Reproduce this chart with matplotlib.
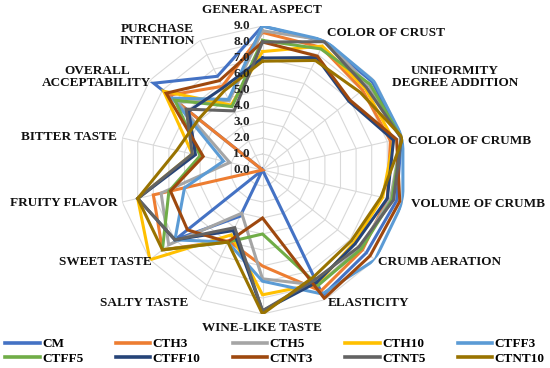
import numpy as np
import matplotlib
matplotlib.use("Agg")
import matplotlib.pyplot as plt
from matplotlib.lines import Line2D

categories = ["GENERAL ASPECT", "COLOR OF CRUST", "UNIFORMITY\nDEGREE ADDITION", "COLOR OF CRUMB",
              "VOLUME OF CRUMB", "CRUMB AERATION", "ELASTICITY", "WINE-LIKE TASTE", "SALTY TASTE",
              "SWEET TASTE", "FRUITY FLAVOR", "BITTER TASTE", "OVERALL\nACCEPTABILITY", "PURCHASE\nINTENTION"]

series_names = ["CM", "CTH3", "CTH5", "CTH10", "CTFF3", "CTFF5", "CTFF10", "CTNT3", "CTNT5", "CTNT10"]

CM     = [9.0, 8.9, 8.8, 8.9, 8.6, 8.3, 8.7, 0.0, 3.2, 7.0, 0.0, 0.0, 8.7, 6.5]
CTH3   = [8.6, 8.5, 8.0, 8.2, 8.0, 8.0, 8.4, 6.0, 4.9, 8.0, 7.0, 0.0, 7.5, 5.8]
CTH5   = [8.7, 9.0, 8.5, 8.9, 8.2, 7.8, 8.0, 6.8, 3.0, 7.5, 6.5, 2.1, 6.8, 4.8]
CTH10  = [7.4, 8.6, 8.2, 8.4, 7.7, 7.3, 7.9, 7.8, 4.5, 9.0, 8.0, 4.5, 7.9, 4.5]
CTFF3  = [9.0, 9.0, 8.9, 9.0, 9.0, 9.0, 8.6, 6.95, 5.0, 7.0, 5.0, 2.5, 7.2, 4.9]
CTFF5  = [8.1, 8.4, 8.6, 8.9, 8.3, 7.9, 8.0, 4.0, 5.0, 8.0, 6.0, 4.0, 7.0, 4.4]
CTFF10 = [7.0, 7.8, 6.9, 8.4, 8.0, 7.4, 7.8, 8.8, 4.2, 7.0, 8.0, 4.3, 5.9, 5.7]
CTNT3  = [8.0, 7.9, 7.0, 8.6, 8.8, 8.6, 8.9, 3.0, 5.0, 6.0, 5.9, 3.8, 7.7, 6.2]
CTNT5  = [8.0, 8.9, 8.3, 8.9, 8.4, 7.7, 7.6, 8.8, 4.0, 7.0, 8.0, 4.5, 6.1, 4.1]
CTNT10 = [6.8, 7.6, 7.8, 9.0, 7.6, 7.1, 7.4, 9.0, 5.0, 8.0, 8.0, 5.5, 5.1, 5.5]

radial_ticks = [0, 1, 2, 3, 4, 5, 6, 7, 8, 9]

series_values = [CM, CTH3, CTH5, CTH10, CTFF3, CTFF5, CTFF10, CTNT3, CTNT5, CTNT10]
colors = ["#4472C4", "#ED7D31", "#A5A5A5", "#FFC000", "#5B9BD5",
          "#70AD47", "#264478", "#9E480E", "#636363", "#997300"]

FONT = "Liberation Serif"

W, H = 550, 368
fig = plt.figure(figsize=(5.5, 3.68), dpi=100)

cx, cy, R = 262.5, 170.0, 144.0
ax = fig.add_axes([(cx - R) / W, (H - cy - R) / H, 2 * R / W, 2 * R / H], projection="polar")
ax.set_theta_zero_location("N")
ax.set_theta_direction(-1)
ax.set_ylim(0, 9)
ax.set_xticks([])
ax.set_yticks([])
ax.grid(False)
ax.spines["polar"].set_visible(False)
ax.patch.set_alpha(0)

n = len(categories)
theta = np.linspace(0, 2 * np.pi, n, endpoint=False)
theta_c = np.append(theta, theta[0])

grid_col = "#D9D9D9"
for lv in radial_ticks[1:]:
    ax.plot(theta_c, [lv] * (n + 1), color=grid_col, lw=0.8, zorder=0)
for t in theta:
    ax.plot([t, t], [0, radial_ticks[-1]], color=grid_col, lw=0.8, zorder=0)

for name, vals, col in zip(series_names, series_values, colors):
    v = np.append(vals, vals[0])
    ax.plot(theta_c, v, color=col, lw=2.2, zorder=3, label=name, solid_joinstyle="miter")

for v in radial_ticks:
    ax.annotate(f"{v:.1f}", xy=(0, v), xytext=(-9, 0), textcoords="offset points",
                ha="right", va="center", fontsize=9.5, fontweight="bold",
                family=FONT, color="#222222", zorder=5, annotation_clip=False)

# category label positions (pixel layout)
label_pos = [
    (262, 10, "center"), (327, 33, "left"), (455, 77, "center"), (408, 141, "left"),
    (411, 204, "left"), (378, 262, "left"), (328, 303, "left"), (262, 328, "center"),
    (188, 303, "right"), (152, 262, "right"), (118, 203, "right"), (117, 137, "right"),
    (97, 77, "center"), (157, 35, "center"),
]
for lab, (px, py, ha) in zip(categories, label_pos):
    fig.text(px / W, 1 - py / H, lab, ha=ha, va="center", fontsize=9.5,
             fontweight="bold", family=FONT, color="#111111", linespacing=1.05)

handles = [Line2D([0], [0], color=c, lw=2.6) for c in colors]
order = [0, 5, 1, 6, 2, 7, 3, 8, 4, 9]
leg = fig.legend([handles[i] for i in order], [series_names[i] for i in order], ncol=5,
                 loc="lower left", bbox_to_anchor=(0.0, -0.005, 1.0, 0.1), mode="expand",
                 frameon=False, handlelength=2.6, handletextpad=0.2, borderaxespad=0.0,
                 labelspacing=0.15, prop={"family": FONT, "weight": "bold", "size": 9.5})

fig.savefig("out.png", dpi=100)
